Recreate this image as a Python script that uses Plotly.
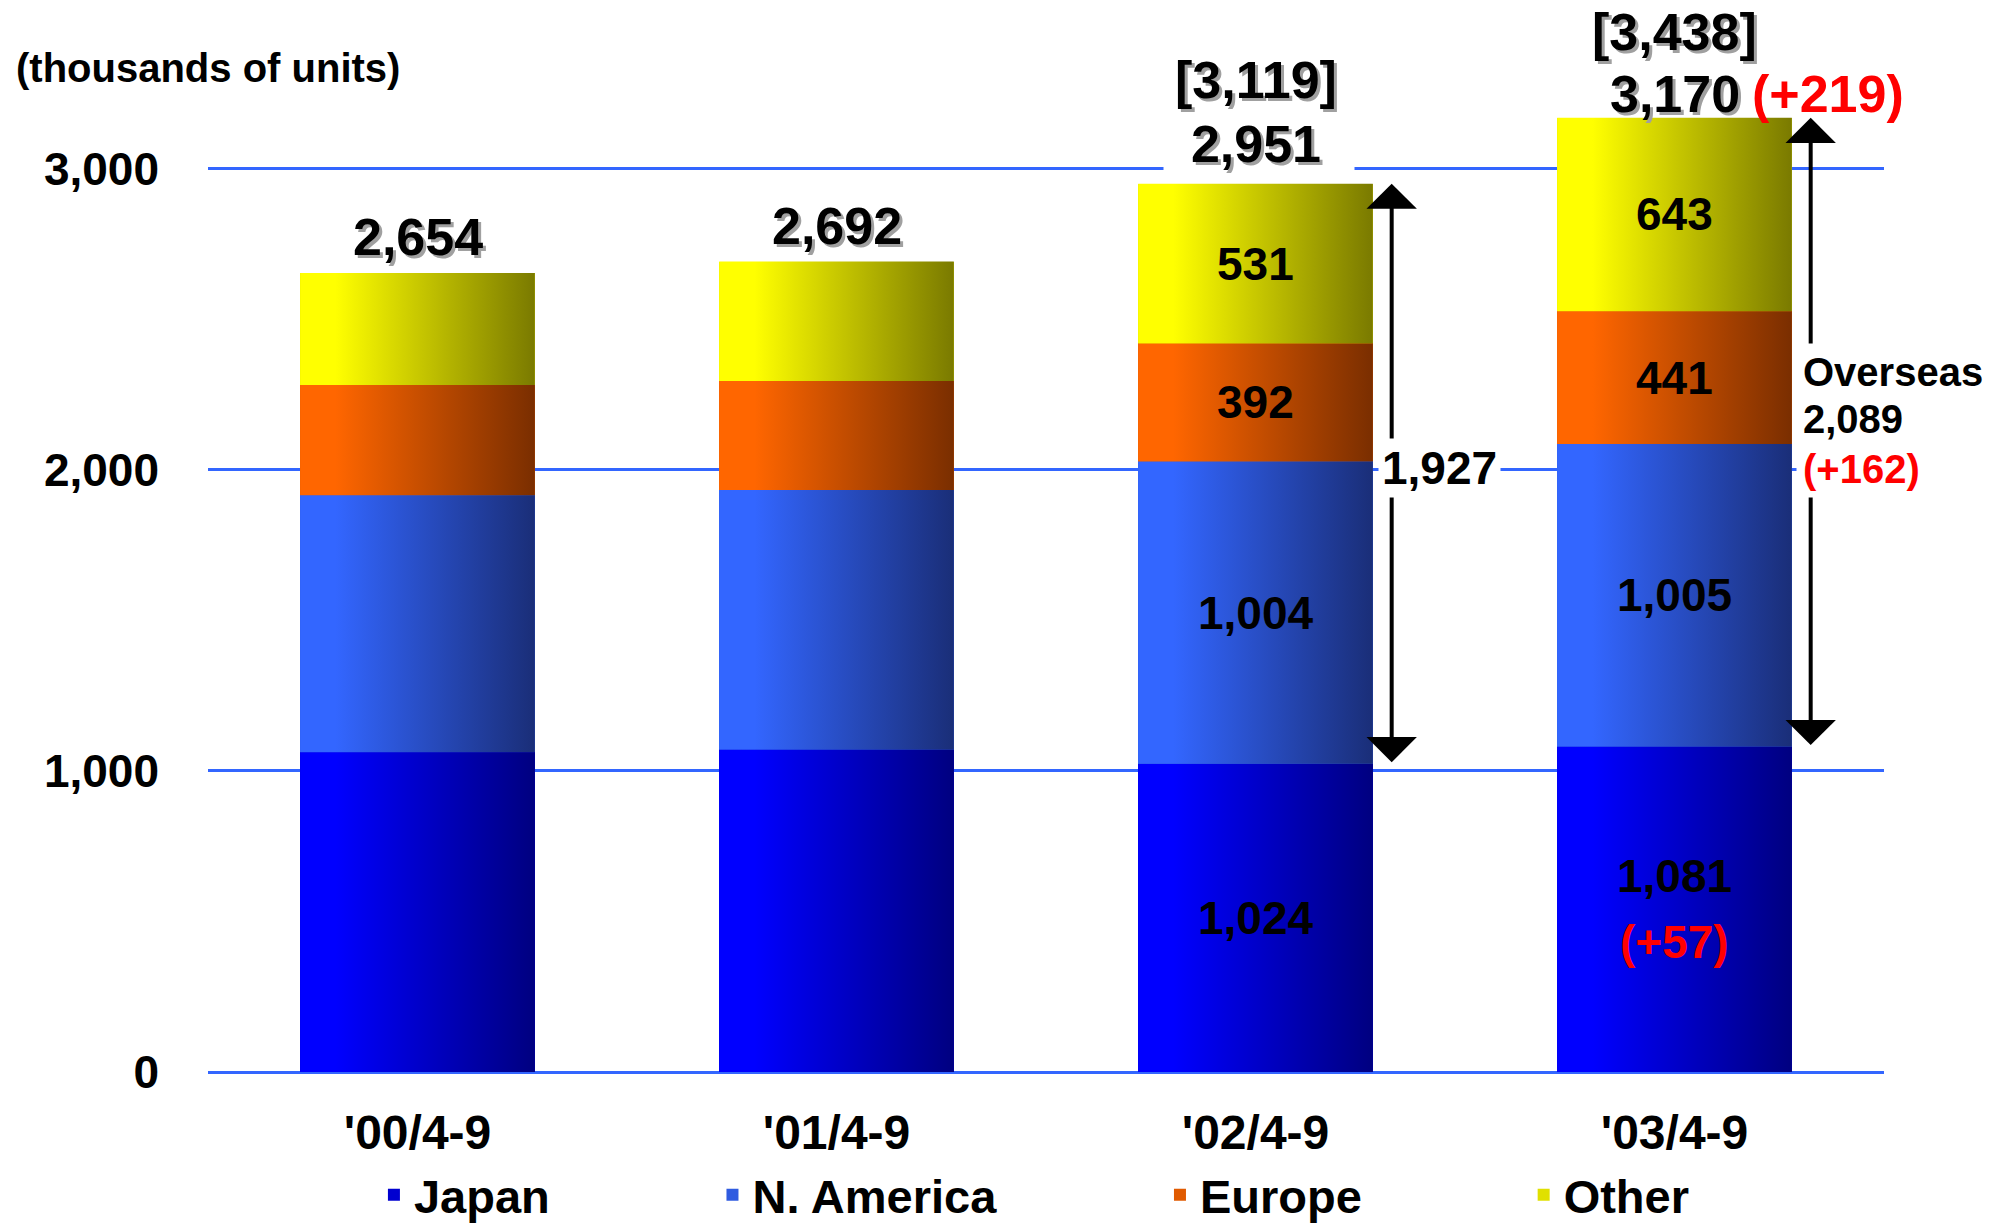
import plotly.graph_objects as go

# ---------------- data ----------------
categories = ["'00/4-9", "'01/4-9", "'02/4-9", "'03/4-9"]
series_names = ["Japan", "N. America", "Europe", "Other"]
japan = [1062, 1071, 1024, 1081]
n_america = [854, 862, 1004, 1005]
europe = [366, 362, 392, 441]
other = [372, 397, 531, 643]
totals = [2654, 2692, 2951, 3170]
prior_totals = [None, None, 3119, 3438]     # bracketed figures
overseas = [None, None, 1927, 2089]
labelled_bars = [2, 3]                       # bars carrying segment labels
change_total = "(+219)"
change_japan = "(+57)"
change_overseas = "(+162)"
y_ticks = [0, 1000, 2000, 3000]
unit_label = "(thousands of units)"

# ---------------- style ----------------
FONT = "Liberation Sans, Arial, sans-serif"
BAR_W = 0.56
ARROW_DX = 0.325
GRID = "#3366FF"
SHADOW = "#A0A0A0"
RED = "#FF0000"
grads = [("#0000FF", "#000080"), ("#3366FF", "#1A2E78"),
         ("#FF6600", "#7A2E00"), ("#FFFF00", "#7A7A00")]
legend_cols = ["#0000D0", "#2F5BE0", "#E05A00", "#E0E000"]
legend_ids = ["legend", "legend2", "legend3", "legend4"]
legend_x = [0.099, 0.301, 0.568, 0.785]

xs = list(range(len(categories)))
stack = [japan, n_america, europe, other]
bases = []
run = [0] * len(xs)
for vals in stack:
    bases.append(run[:])
    run = [r + v for r, v in zip(run, vals)]

fig = go.Figure()
for name, vals, col, lg in zip(series_names, stack, legend_cols, legend_ids):
    fig.add_trace(go.Bar(x=xs, y=vals, name=name, width=BAR_W, legend=lg,
                         marker=dict(color=col, line=dict(width=0)),
                         hoverinfo="name+y"))

# gradient faces of each segment
for k, vals in enumerate(stack):
    c1, c2 = grads[k]
    for i in xs:
        b = bases[k][i]
        t = b + vals[i]
        x0, x1 = xs[i] - BAR_W / 2, xs[i] + BAR_W / 2
        fig.add_trace(go.Scatter(
            x=[x0, x1, x1, x0, x0], y=[b, b, t, t, b], mode="none",
            fill="toself",
            fillgradient=dict(type="horizontal",
                              colorscale=[[0, c1], [0.15, c1], [1, c2]]),
            showlegend=False, hoverinfo="skip"))


def txt(x, y, text, size, color="black", xshift=0, yshift=0,
        xanchor="center", yanchor="middle", shadow=False, bg=None,
        xref="x", yref="y", pad=1):
    if shadow:
        fig.add_annotation(x=x, y=y, xref=xref, yref=yref, text=text,
                           showarrow=False, xanchor=xanchor, yanchor=yanchor,
                           xshift=xshift + 3, yshift=yshift - 3,
                           bgcolor=bg, borderpad=pad,
                           font=dict(family=FONT, size=size, color=SHADOW,
                                     weight="bold"))
        bg = None
    fig.add_annotation(x=x, y=y, xref=xref, yref=yref, text=text,
                       showarrow=False, xanchor=xanchor, yanchor=yanchor,
                       xshift=xshift, yshift=yshift, bgcolor=bg,
                       borderpad=pad,
                       font=dict(family=FONT, size=size, color=color,
                                 weight="bold"))


# overseas arrows
for i in labelled_bars:
    xa = xs[i] + ARROW_DX
    fig.add_annotation(x=xa, y=totals[i], ax=xa, ay=japan[i],
                       xref="x", yref="y", axref="x", ayref="y", text="",
                       showarrow=True, arrowside="end+start",
                       arrowhead=1, startarrowhead=1,
                       arrowsize=2.1, startarrowsize=2.1, arrowwidth=4,
                       arrowcolor="black", standoff=0, startstandoff=0)

# totals above bars
NB = "\u00a0"
for i in xs:
    if prior_totals[i] is None:
        txt(xs[i], totals[i], f"{totals[i]:,}", 52, yshift=36, shadow=True)
txt(xs[2], totals[2], NB * 2 + f"{totals[2]:,}" + NB * 2, 52, yshift=40,
    shadow=True, bg="white")
txt(xs[2], totals[2], f"[{prior_totals[2]:,}]", 52, yshift=104, shadow=True)
txt(xs[3], totals[3], f"{totals[3]:,}", 52, yshift=24, shadow=True)
txt(xs[3], totals[3], f"[{prior_totals[3]:,}]", 52, yshift=86, shadow=True)
txt(xs[3] + 0.18, totals[3], change_total, 52, color=RED, yshift=24,
    xanchor="left")

# segment labels
for i in labelled_bars:
    for k, vals in enumerate(stack):
        mid = bases[k][i] + vals[i] / 2
        if k == 0 and i == 3:
            txt(xs[i], mid, f"{vals[i]:,}", 46, yshift=33)
            txt(xs[i], mid, change_japan, 46, color=RED, yshift=-33)
        else:
            txt(xs[i], mid, f"{vals[i]:,}", 46)

# overseas labels
m2 = (japan[2] + totals[2]) / 2
txt(xs[2] + ARROW_DX, m2, f"{overseas[2]:,}", 46, xanchor="left",
    xshift=-14, yshift=6, bg="white", pad=3)
m3 = (japan[3] + totals[3]) / 2
txt(xs[3] + ARROW_DX, m3, "Overseas", 40, xanchor="left", xshift=-15,
    yshift=60, bg="white", pad=6)
txt(xs[3] + ARROW_DX, m3, f"{overseas[3]:,}", 40, xanchor="left",
    xshift=-15, yshift=13, bg="white", pad=6)
txt(xs[3] + ARROW_DX, m3, change_overseas, 40, color=RED, xanchor="left",
    xshift=-15, yshift=-37, bg="white", pad=6)

# unit label
txt(-0.116, 0.9366, unit_label, 40, xanchor="left", xref="paper",
    yref="paper")

legend_font = dict(family=FONT, size=47, color="black", weight="bold")
legends = {}
for lg, lx in zip(legend_ids, legend_x):
    legends[lg] = dict(orientation="h", x=lx, xanchor="left", y=-0.115,
                       yanchor="middle", font=legend_font,
                       bgcolor="rgba(0,0,0,0)")

fig.update_layout(
    width=2005, height=1228,
    margin=dict(l=208, r=121, t=0, b=156, autoexpand=False),
    barmode="stack", plot_bgcolor="white", paper_bgcolor="white",
    font=dict(family=FONT, size=46, color="black", weight="bold"),
    showlegend=True,
    xaxis=dict(range=[-0.5, 3.5], tickvals=xs, ticktext=categories,
               showgrid=False, zeroline=False, showline=False, ticks="",
               ticklabelstandoff=28, automargin=False,
               tickfont=dict(family=FONT, size=48, color="black",
                             weight="bold")),
    yaxis=dict(range=[0, 3561], tickvals=y_ticks, tickformat=",",
               showgrid=True, gridcolor=GRID, gridwidth=3,
               zeroline=True, zerolinecolor=GRID, zerolinewidth=3,
               showline=False, ticks="", ticklabelstandoff=48,
               automargin=False,
               tickfont=dict(family=FONT, size=46, color="black",
                             weight="bold")),
    **legends,
)

fig.write_html("out.html")
